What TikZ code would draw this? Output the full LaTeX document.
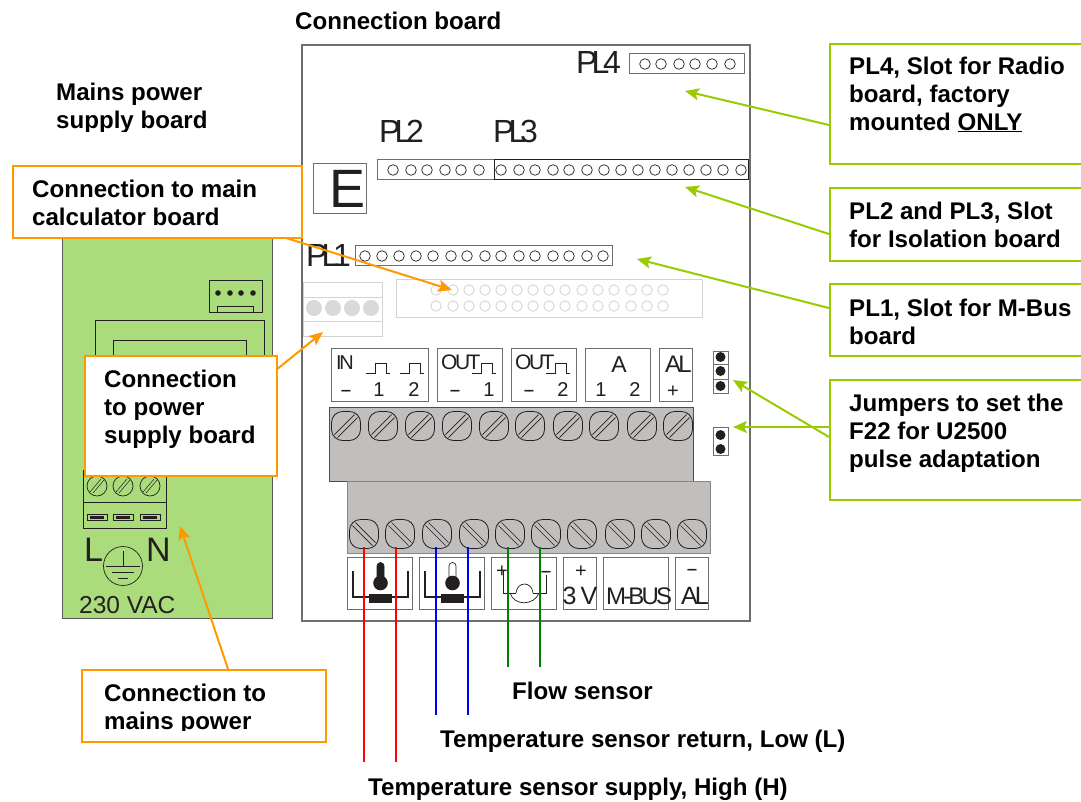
\documentclass[tikz,border=0pt]{standalone}
\usepackage{fontspec}
\setmainfont{Liberation Sans}
\newfontfamily\tight[LetterSpace=-12]{Liberation Sans}
\newfontfamily\tighter[LetterSpace=-19]{Liberation Sans}
\usetikzlibrary{arrows.meta}
\definecolor{ink}{HTML}{231F20}
\definecolor{edge}{HTML}{6E6E6E}
\definecolor{okgreen}{HTML}{99CC00}
\definecolor{amber}{HTML}{FF9900}
\definecolor{psu}{HTML}{AADC7C}
\definecolor{block}{HTML}{C0BFBD}
\definecolor{faint}{HTML}{D2D2D2}
\tikzset{
 x=1pt,y=-1pt,
 title/.style={inner sep=0,anchor=base west,align=left,font=\bfseries\fontsize{24.1}{27.6}\selectfont,text=black},
 greencall/.style={draw=okgreen,line width=1.7pt,fill=white,anchor=north west,inner sep=0},
 ambercall/.style={draw=amber,line width=2pt,fill=white,anchor=north west,inner sep=0},
 greenarrow/.style={draw=okgreen,line width=2pt,-{Stealth[length=14pt,width=12pt,inset=3pt]}},
 amberarrow/.style={draw=amber,line width=2pt,-{Stealth[length=14pt,width=12pt,inset=3pt]}},
 plbox/.style={draw=edge,line width=.9pt},
 lab/.style={inner sep=0,text=ink,font=\tight\fontsize{#1}{#1}\selectfont,anchor=base},
 lab/.default=20,
 biglab/.style={inner sep=0,text=ink,font=\tighter\fontsize{32}{32}\selectfont,anchor=base west},
 termbox/.style={draw=edge,line width=.8pt,fill=white},
 wire/.style={line width=1.4pt},
 thin ink/.style={draw=ink,line width=.7pt},
}
\newcommand{\screwA}[2]{\draw[thin ink,line width=.8pt,rounded corners=11pt] (#1-14.5,#2-14.5) rectangle (#1+14.5,#2+14.5);
 \draw[thin ink,line width=.7pt] (#1-11.5,#2+8.5)--(#1+8.5,#2-11.5) (#1-8.5,#2+11.5)--(#1+11.5,#2-8.5);}
\newcommand{\screwB}[2]{\draw[thin ink,line width=.8pt,rounded corners=11pt] (#1-14.5,#2-14.5) rectangle (#1+14.5,#2+14.5);
 \draw[thin ink,line width=.7pt] (#1-11.5,#2-8.5)--(#1+8.5,#2+11.5) (#1-8.5,#2-11.5)--(#1+11.5,#2+8.5);}
\newcommand{\pulse}[2]{\draw[thin ink] (#1,#2)--(#1+9,#2)--(#1+9,#2-10)--(#1+20,#2-10)--(#1+20,#2)--(#1+24,#2);}
\begin{document}
\begin{tikzpicture}
\useasboundingbox (0,0) rectangle (1081,801);
% power supply board
\draw[draw=edge!80!black,fill=psu,line width=1pt] (62,235) rectangle (272,618);
\draw[thin ink] (209,280) rectangle (262,312) (217,306) rectangle (253,312);
\foreach \x in {218,230,241,253} \fill[ink] (\x,293) circle (2.8);
\draw[thin ink] (95,360)--(95,320)--(264,320)--(264,360) (113,360)--(113,340)--(246,340)--(246,360);
\draw[thin ink] (83,470) rectangle (166,528) (83,502)--(166,502);
\foreach \x in {97,123,150}{
 \draw[thin ink] (\x,486) circle (10);
 \draw[thin ink,line width=.5pt] (\x-7,492)--(\x+4,479) (\x-4,493)--(\x+7,480);
 \draw[draw=ink,line width=.6pt] (\x-10,514) rectangle (\x+10,520);
 \fill[ink] (\x-7,516) rectangle (\x+7,518.5);}
\node[lab=34,anchor=base west] (lL) at (84,561) {L};
\node[lab=34,anchor=base west] (lN) at (146,561) {N};
\draw[thin ink] (123,566) circle (19.5);
\draw[thin ink] (123,551)--(123,566) (106,566)--(140,566) (112,572)--(134,572) (118,578)--(128,578);
\node[inner sep=0,anchor=base west,text=ink,font=\fontsize{24.5}{24.5}\selectfont] (vac) at (79,613) {230 VAC};
\node[title] (mains) at (56,128) {Mains power\\supply board};
\fill[white] (50,131.5) rectangle (215,140);
% connection board
\draw[draw=edge,line width=1.1pt,fill=white] (302,45) rectangle (750,621);
\node[title] (cboard) at (295,29) {Connection board};
\node[biglab] (pl4) at (576,73) {PL4};
\node[biglab] (pl2) at (379,142) {PL2};
\node[biglab] (pl3) at (493,142) {PL3};
\node[biglab] (pl1) at (306,266) {PL1};
\draw[plbox] (629,53) rectangle (744,73);
\foreach \x in {645,661,679,695,712,730} \draw[thin ink] (\x,64) circle (5.3);
\draw[plbox] (377,159) rectangle (494,179);
\foreach \x in {393,411,427,445,461,479} \draw[thin ink] (\x,170) circle (5.3);
\draw[draw=ink,line width=.9pt] (494,159) rectangle (748,179);
\foreach \x in {501,519,535,553,569,587,604,621,638,655,672,689,706,723,741} \draw[thin ink] (\x,170) circle (5.3);
\draw[plbox] (355,245) rectangle (612,265);
\foreach \x in {365,382,399,416,433,451,467,485,501,519,535,553,569,587,603} \draw[thin ink] (\x,256) circle (5.3);
\draw[plbox] (313,163) rectangle (366,213);
\node[inner sep=0,anchor=base west,text=ink,font=\fontsize{54}{54}\selectfont] (elabel) at (329,207) {E};
% faint connector
\draw[faint,line width=1pt] (396,279) rectangle (702,317);
\foreach \x in {436,453,469,485,501,517,533,549,565,582,598,614,631,647,663}{
 \draw[faint,line width=.8pt] (\x,290) circle (5.2);
 \draw[faint,line width=.8pt] (\x,306) circle (5.2);}
\draw[faint,line width=1pt] (303,282) rectangle (382,336) (303,297)--(382,297) (303,321)--(382,321);
\foreach \x in {314,333,352,371} \fill[black!15] (\x,308) circle (8);
% terminal blocks
\draw[draw=ink!80,fill=block,line width=.9pt] (329,407) rectangle (693,481);
\draw[draw=block!70!black,fill=block,line width=.9pt] (347,481) rectangle (710,553);
\foreach \x in {346,383,420,457,494,530,568,604,642,678} {\screwA{\x}{426}}
\foreach \x in {364,400,437,474,510,546,582,620,656,692} {\screwB{\x}{534}}
% upper labels
\draw[termbox] (331,348) rectangle (428,401);
\draw[termbox] (437,348) rectangle (502,401);
\draw[termbox] (511,348) rectangle (576,401);
\draw[termbox] (585,348) rectangle (650,401);
\draw[termbox] (659,348) rectangle (692,401);
\node[lab=20,anchor=base west] (tin) at (336,369) {IN};
\pulse{366}{373}\pulse{400}{373}\pulse{472}{373}\pulse{546}{373}
\node[lab=21,anchor=base west] (tout1) at (441,369) {OUT};
\node[lab=21,anchor=base west] (tout2) at (515,369) {OUT};
\node[lab=23] (ta) at (619,372) {A};
\node[lab=24,anchor=base west] (tal) at (665,372) {AL};
\foreach \n/\x/\t in {a/346/--,b/379/1,c/414/2,d/455/--,e/489/1,f/529/--,g/563/2,h/601/1,i/635/2}
 \node[lab=20] (t\n) at (\x,396) {\t};
\node[lab=20] (tplus) at (673,397) {+};
% lower labels
\foreach \a/\b in {347/412,419/484,491/556,563/596,603/668,675/708} \draw[termbox] (\a,557) rectangle (\b,609);
\foreach \o/\stem in {0/ink,72/white}{
 \draw[ink,line width=2.4pt] (353+\o,571)--(353+\o,597)--(408+\o,597)--(408+\o,571);
 \fill[ink] (369+\o,594) rectangle (392+\o,603);
 \draw[fill=\stem,draw=ink,line width=.7pt] (377+\o,586)--(377+\o,566) arc (180:360:3.5)--(384+\o,586);
 \fill[ink] (380.5+\o,583) circle (7.3);
}
\draw[thin ink] (503,570)--(503,593)--(516,593) (546,575)--(546,593)--(533,593);
\draw[thin ink] (516,593) .. controls (517,581) and (532,581) .. (533,593);
\draw[thin ink] (510,593) .. controls (514,606) and (534,606) .. (539,593);
\node[lab=20] (bplus) at (502,577) {+};
\node[lab=20] (bminus) at (546,577) {--};
\node[lab=20] (b3plus) at (581,577) {+};
\node[lab=25] (b3v) at (580,604) {3 V};
\node[lab=24,anchor=base west] (bmbus) at (606,604) {M-BUS};
\node[lab=20] (balm) at (692,575) {--};
\node[lab=25,anchor=base west] (bal) at (681,604) {AL};
% jumpers
\draw[plbox,fill=white] (713,351) rectangle (728,393) (713,364)--(728,364) (713,379)--(728,379);
\foreach \y in {357,371,386} \fill[ink] (720.5,\y) circle (5);
\draw[plbox] (713,427) rectangle (728,455);
\foreach \y in {435,449} \fill[ink] (720.5,\y) circle (5);
% wires
\coordinate (r1a) at (364,547); \coordinate (r1b) at (364,762);
\coordinate (r2a) at (396,547); \coordinate (r2b) at (396,762);
\coordinate (b1a) at (436,547); \coordinate (b1b) at (436,715);
\coordinate (b2a) at (468,547); \coordinate (b2b) at (468,715);
\coordinate (g1a) at (508,547); \coordinate (g1b) at (508,667);
\coordinate (g2a) at (540,547); \coordinate (g2b) at (540,667);
\draw[wire,red] (r1a)--(r1b); \draw[wire,red] (r2a)--(r2b);
\draw[wire,blue] (b1a)--(b1b); \draw[wire,blue] (b2a)--(b2b);
\draw[wire,green!50!black] (g1a)--(g1b); \draw[wire,green!50!black] (g2a)--(g2b);
\node[title] (flow) at (512,699) {Flow sensor};
\node[title] (tlow) at (440,747) {Temperature sensor return, Low (L)};
\node[title] (thigh) at (368,795) {Temperature sensor supply, High (H)};
% green callouts
\node[greencall,minimum width=270pt,minimum height=120pt] (c4) at (829,43) {};
\node[title] (c4t) at (849,130) {PL4, Slot for Radio\\board, factory\\mounted \underline{ONLY}};
\node[greencall,minimum width=270pt,minimum height=73pt] (c23) at (829,187) {};
\node[title] (c23t) at (849,247) {PL2 and PL3, Slot\\for Isolation board};
\node[greencall,minimum width=270pt,minimum height=72pt] (c1) at (829,283) {};
\node[title] (c1t) at (849,344) {PL1, Slot for M-Bus\\board};
\node[greencall,minimum width=270pt,minimum height=120pt] (cj) at (829,379) {};
\node[title] (cjt) at (849,467) {Jumpers to set the\\F22 for U2500\\pulse adaptation};
\coordinate (s4) at (829,125); \coordinate (t4) at (685,91);
\coordinate (s23) at (829,234); \coordinate (t23) at (685,187);
\coordinate (s1) at (829,308); \coordinate (t1) at (637,259);
\coordinate (sj1) at (829,437); \coordinate (tj1) at (733,380);
\coordinate (sj2) at (829,427); \coordinate (tj2) at (733,427);
\draw[greenarrow] (s4)--(t4); \draw[greenarrow] (s23)--(t23); \draw[greenarrow] (s1)--(t1);
\draw[greenarrow] (sj1)--(tj1); \draw[greenarrow] (sj2)--(tj2);
% amber callouts
\coordinate (sm) at (283,237); \coordinate (tm) at (452,290);
\coordinate (sp) at (276,370); \coordinate (tp) at (323,332);
\coordinate (sv) at (228,669); \coordinate (tv) at (180,526);
\draw[amberarrow] (sm)--(tm); \draw[amberarrow] (sp)--(tp); \draw[amberarrow] (sv)--(tv);
\node[ambercall,minimum width=289pt,minimum height=72pt] (am) at (12,165) {};
\node[title] (amt) at (32,225) {Connection to main\\calculator board};
\node[ambercall,minimum width=192pt,minimum height=120pt] (ap) at (84,355) {};
\node[title] (apt) at (104,443) {Connection\\to power\\supply board};
\node[ambercall,minimum width=244pt,minimum height=72pt] (av) at (81,669) {};
\node[title] (avt) at (104,729) {Connection to\\mains power};
\fill[white] (100,730.5) rectangle (265,738);
\end{tikzpicture}
\end{document}
